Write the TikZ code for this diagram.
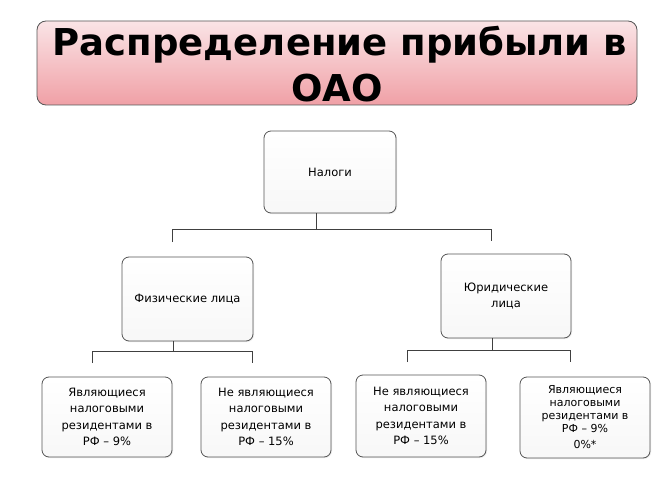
\documentclass[tikz,border=0pt]{standalone}
\usepackage{fontspec}
\setmainfont{DejaVu Sans}
\usetikzlibrary{shadows}
\definecolor{boxline}{RGB}{85,85,85}
\definecolor{pinktop}{RGB}{250,228,230}
\definecolor{pinkbot}{RGB}{240,160,166}
\begin{document}
\begin{tikzpicture}[x=1pt,y=-1pt,
  titlebox/.style={draw=boxline,line width=0.8pt,rounded corners=9pt,top color=pinktop,bottom color=pinkbot,minimum width=600pt,minimum height=84pt,inner sep=0pt},
  titletxt/.style={font=\fontsize{37}{44}\selectfont\bfseries,text=black,anchor=base,inner sep=0pt},
  itembox/.style={draw=boxline,line width=0.8pt,rounded corners=7pt,fill=white,top color=white,bottom color=gray!6,inner sep=2pt,align=center,font=\fontsize{11.5}{16.5}\selectfont,text=black,drop shadow={shadow xshift=1pt,shadow yshift=-1pt,opacity=0.15}},
  conn/.style={draw=black!75,line width=0.8pt}]
\useasboundingbox[fill=white] (0,0) rectangle (666,500);
\node[titlebox] (title) at (337,63) {};
\node[titletxt] (t1) at (340,56) {Распределение прибыли в};
\node[titletxt] (t2) at (337,102) {ОАО};
\node[itembox,minimum width=132pt,minimum height=82pt] (nalogi) at (330,172) {Налоги};
\node[itembox,minimum width=131pt,minimum height=84pt] (fiz) at (187.5,299) {Физические лица};
\node[itembox,minimum width=130pt,minimum height=84pt] (jur) at (506,296) {Юридические\\лица};
\node[itembox,minimum width=130pt,minimum height=80pt] (b1) at (107,417) {Являющиеся\\налоговыми\\резидентами в\\РФ – 9\%};
\node[itembox,minimum width=130pt,minimum height=80pt] (b2) at (266,417) {Не являющиеся\\налоговыми\\резидентами в\\РФ – 15\%};
\node[itembox,minimum width=130pt,minimum height=82pt] (b3) at (421,416) {Не являющиеся\\налоговыми\\резидентами в\\РФ – 15\%};
\node[itembox,minimum width=130pt,minimum height=81pt,font=\fontsize{11}{13}\selectfont] (b4) at (585,417.5) {Являющиеся\\налоговыми\\резидентами в\\РФ – 9\%\\[3pt]0\%*};
% junctions
\coordinate (j0) at (316,229);
\coordinate (jl) at (172,229);
\coordinate (jr) at (491,229);
\coordinate (el) at (172,242);
\coordinate (er) at (491,241);
\coordinate (k0) at (173,351);
\coordinate (kl) at (92,351);
\coordinate (kr) at (252,351);
\coordinate (fl) at (92,363);
\coordinate (fr) at (252,363);
\coordinate (m0) at (492,350);
\coordinate (ml) at (407,350);
\coordinate (mr) at (570,350);
\coordinate (gl) at (407,362);
\coordinate (gr) at (570,362);
\draw[conn] (nalogi.south -| j0) -- (j0);
\draw[conn] (el) -- (jl) -- (jr) -- (er);
\draw[conn] (fiz.south -| k0) -- (k0);
\draw[conn] (fl) -- (kl) -- (kr) -- (fr);
\draw[conn] (jur.south -| m0) -- (m0);
\draw[conn] (gl) -- (ml) -- (mr) -- (gr);
\end{tikzpicture}
\end{document}
